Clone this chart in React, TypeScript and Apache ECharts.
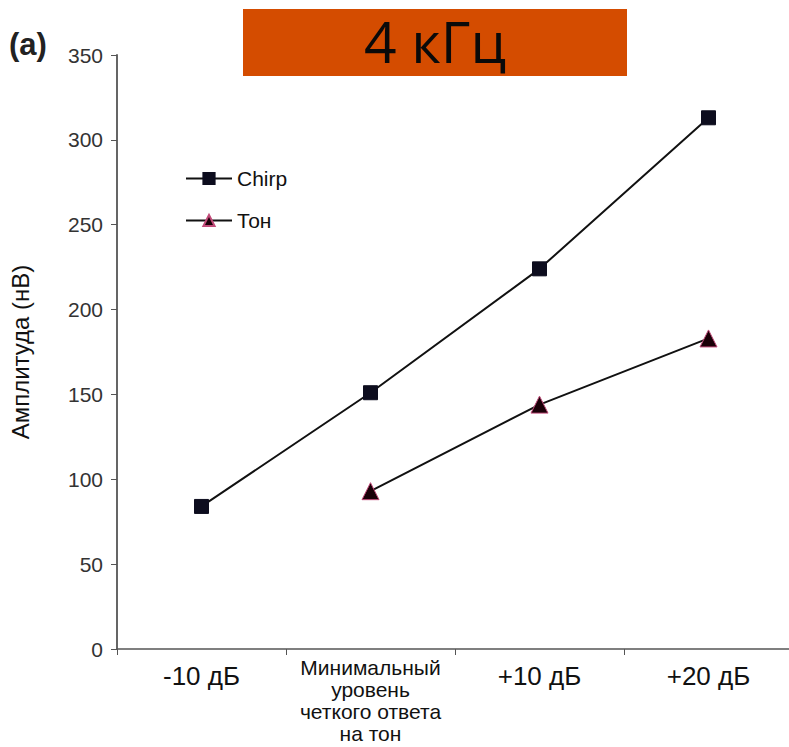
import React, { useEffect, useRef } from "react";
import * as echarts from "echarts";

const categories = ["-10 дБ", "Минимальный\nуровень\nчеткого ответа\nна тон", "+10 дБ", "+20 дБ"];
const chirpValues = [84, 151, 224, 313];
const toneValues = [null, 93, 144, 183];
const yTicks = { min: 0, max: 350, interval: 50 };
const titleText = "4 кГц";
const panelLabel = "(a)";
const yAxisName = "Амплитуда (нВ)";

const FONT = "'Liberation Sans', Arial, sans-serif";

export default function App() {
  const ref = useRef<HTMLDivElement>(null);
  useEffect(() => {
    const chart = echarts.init(ref.current!, null, { renderer: "svg" });
    chart.setOption({
      animation: false,
      backgroundColor: "#ffffff",
      textStyle: { fontFamily: FONT },
      grid: {
        left: 117,
        right: -4,
        top: 55,
        bottom: 98,
        containLabel: false,
        outerBoundsMode: "none",
      },
      graphic: [
        {
          type: "rect",
          shape: { x: 243, y: 9, width: 384, height: 67 },
          style: { fill: "#d44c00" },
        },
        {
          type: "text",
          x: 435,
          y: 41,
          style: {
            text: titleText,
            fontSize: 57,
            fontFamily: "'Open Sans', 'DejaVu Sans', sans-serif",
            fill: "#0a0a0a",
            align: "center",
            verticalAlign: "middle",
          },
        },
        {
          type: "text",
          x: 9,
          y: 44,
          style: {
            text: panelLabel,
            fontSize: 31,
            fontWeight: "bold",
            fontFamily: FONT,
            fill: "#222",
            verticalAlign: "middle",
          },
        },
      ],
      legend: {
        orient: "vertical",
        left: 180,
        top: 163,
        itemWidth: 46,
        itemHeight: 14,
        itemGap: 21,
        textStyle: { fontSize: 21, color: "#111", fontFamily: FONT },
        data: ["Chirp", "Тон"],
      },
      xAxis: {
        type: "category",
        data: categories,
        boundaryGap: true,
        axisLine: { lineStyle: { color: "#555", width: 1.5 } },
        axisTick: { show: true, length: 6, lineStyle: { color: "#555" } },
        axisLabel: {
          interval: 0,
          color: "#111",
          margin: 7,
          verticalAlign: "top",
          fontFamily: FONT,
          // single-line labels sit lower than the four-line block
          formatter: (v: string) => (v.includes("\n") ? "{s|" + v + "}" : "{a|" + v + "}"),
          rich: {
            a: { fontSize: 26, lineHeight: 28, padding: [12, 0, 0, 0], color: "#111", fontFamily: FONT },
            s: { fontSize: 21, lineHeight: 22, color: "#111", fontFamily: FONT },
          },
        },
      },
      yAxis: {
        type: "value",
        min: yTicks.min,
        max: yTicks.max,
        interval: yTicks.interval,
        name: yAxisName,
        nameLocation: "middle",
        nameGap: 85,
        nameRotate: 90,
        nameTextStyle: { fontSize: 24, color: "#111", fontFamily: FONT },
        axisLine: { show: true, lineStyle: { color: "#555", width: 1.8 } },
        axisTick: { show: true, length: 6, lineStyle: { color: "#555" } },
        splitLine: { show: false },
        axisLabel: { color: "#333", fontSize: 21, margin: 14, fontFamily: FONT },
      },
      series: [
        {
          name: "Chirp",
          type: "line",
          data: chirpValues,
          symbol: "rect",
          symbolSize: 14,
          lineStyle: { color: "#111", width: 2 },
          itemStyle: { color: "#0d0d1e", borderColor: "#0d0d1e", borderWidth: 1 },
        },
        {
          name: "Тон",
          type: "line",
          data: toneValues,
          symbol: "triangle",
          symbolSize: 17,
          lineStyle: { color: "#111", width: 2 },
          itemStyle: { color: "#1a0008", borderColor: "#c04a78", borderWidth: 1 },
        },
      ],
    });
    return () => chart.dispose();
  }, []);
  return (
    <div
      ref={ref}
      style={{ position: "absolute", left: 0, top: 0, width: 789, height: 747 }}
    />
  );
}
